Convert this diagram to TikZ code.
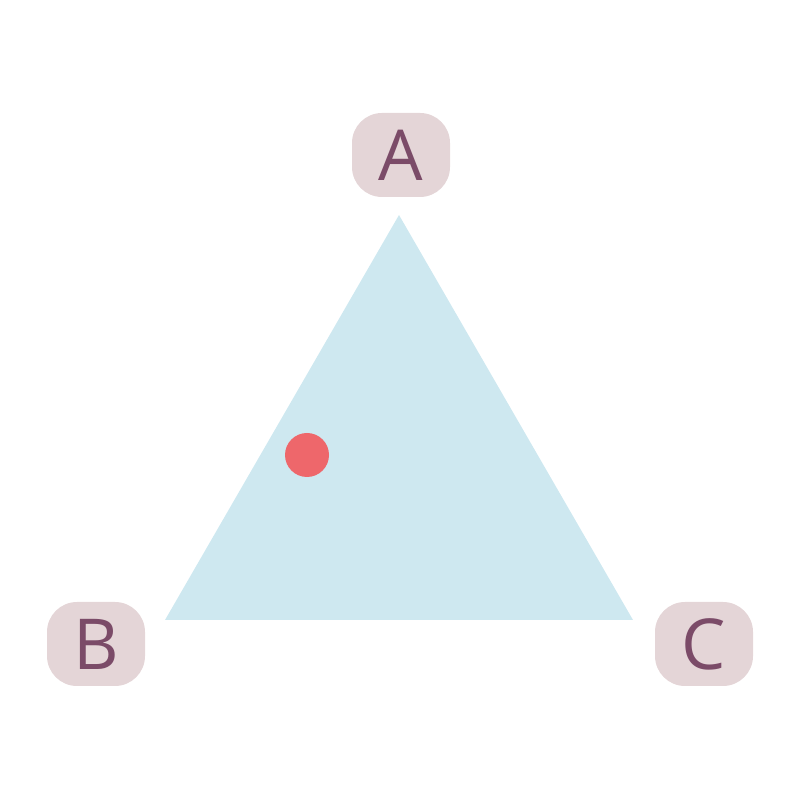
\documentclass[tikz,border=0pt]{standalone}
\usepackage{fontspec}
\setmainfont{Open Sans}
\usetikzlibrary{positioning}
\definecolor{triblue}{HTML}{CEE8F0}
\definecolor{dotred}{HTML}{EE676B}
\definecolor{tagfill}{HTML}{E4D5D7}
\definecolor{tagtext}{HTML}{7B4B68}
\tikzset{
    vtag/.style={fill=tagfill, text=tagtext, rounded corners=0.3cm, minimum width=0.98cm, minimum height=0.84cm, inner sep=0pt, font=\fontsize{20}{20}\selectfont}
}
\begin{document}
\begin{tikzpicture}
    \useasboundingbox (0,0) rectangle (8,8);
    % triangle
    \coordinate (tA) at (3.99,5.85);
    \coordinate (tB) at (1.65,1.80);
    \coordinate (tC) at (6.33,1.80);
    \fill[triblue] (tA) -- (tB) -- (tC) -- cycle;
    % point
    \fill[dotred] (3.07,3.45) circle (0.22cm);
    % vertex labels
    \node[vtag] (lA) at (4.01,6.45) {A};
    \node[vtag] (lB) at (0.96,1.56) {B};
    \node[vtag] (lC) at (7.04,1.56) {C};
\end{tikzpicture}
\end{document}
